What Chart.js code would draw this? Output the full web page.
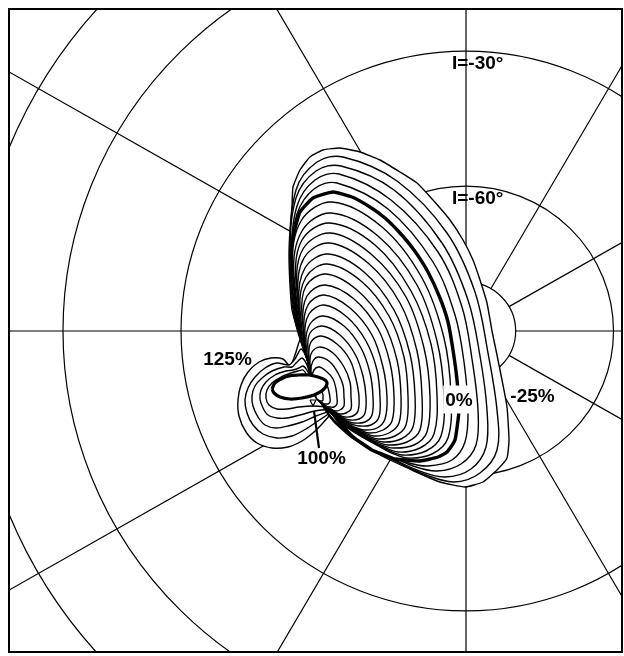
<!DOCTYPE html>
<html>
<head>
<meta charset="utf-8">
<script src="https://cdn.jsdelivr.net/npm/chart.js@4/dist/chart.umd.min.js"></script>
<style>
  html, body { margin: 0; padding: 0; background: #fff; overflow: hidden; }
  canvas { display: block; }
</style>
</head>
<body>
<canvas id="net" width="624" height="656"></canvas>
<script>
// Equal-area net, pole of the upper hemisphere at the origin, x east, y north.
// Net units: the equator (I = 0°) has radius 403 east-west; the printed net is
// slightly squat, its north-south radius is NET_ASPECT of that.
const NET_RADIUS = 403;
const NET_ASPECT = 0.982;
const ringInclinations = [-80, -60, -30, 0, 30];
const meridianDeclinations = [0, 30, 60, 90, 120, 150, 180, 210, 240, 270, 300, 330];
const ringLabelText = ['I=-30°', 'I=-60°'];
const ringLabelInc = [-30, -60];

// Contours of the relative change, closed paths of [x, y] on the net.
const levelsOuter = [-25, -20, -15, -10, -5];
const pathsOuter = [
  [[-174,124],[-173,144],[-166,161],[-156,174],[-143,181],[-126,183],[-106,179],[-86,171],[-66,159],[-49,148],[-33,131],[-16,111],[-3,91],[7,71],[14,51],[21,28],[26,0],[31,-24],[36,-49],[41,-76],[43,-109],[41,-127],[31,-139],[17,-151],[-1,-156],[-26,-151],[-52,-140],[-86,-124],[-114,-107],[-132,-91],[-144,-74],[-150,-57],[-156,-37],[-162,-17],[-168,0],[-174,21],[-176,46],[-177,76],[-176,101],[-174,124]],
  [[-83,-124],[-135,-87],[-154,-42],[-172,15],[-176,75],[-170,141],[-149,169],[-123,174],[-69,150],[-19,98],[9,39],[22,-22],[31,-79],[31,-119],[14,-142],[-12,-151],[-45,-142],[-83,-124]],
  [[-81,-124],[-134,-88],[-154,-42],[-171,14],[-176,74],[-170,133],[-150,160],[-125,165],[-72,141],[-24,88],[2,31],[14,-25],[21,-79],[20,-116],[5,-138],[-21,-146],[-49,-139],[-81,-124]],
  [[-78,-124],[-133,-88],[-154,-43],[-170,13],[-175,73],[-169,125],[-151,151],[-127,157],[-75,131],[-28,79],[-4,24],[6,-28],[12,-79],[10,-114],[-5,-133],[-29,-140],[-53,-135],[-78,-124]],
  [[-76,-124],[-132,-89],[-153,-43],[-169,12],[-175,72],[-169,117],[-152,142],[-129,148],[-78,122],[-33,69],[-11,16],[-2,-31],[2,-79],[-1,-111],[-14,-129],[-38,-135],[-57,-132],[-76,-124]]
];

const pathZero = [[-71,-128],[-94,-119],[-114,-105],[-130,-87],[-142,-68],[-150,-49],[-156,-29],[-164,-4],[-169,21],[-172,49],[-174,76],[-172,98],[-166,119],[-153,133],[-133,139],[-114,134],[-96,124],[-81,113],[-66,98],[-52,81],[-38,59],[-26,33],[-18,9],[-13,-19],[-9,-49],[-7,-79],[-11,-109],[-19,-121],[-28,-126],[-46,-130],[-61,-129],[-71,-128]];

const levelsInner = [5, 10, 15, 20, 25, 30, 35, 40, 45, 50, 55, 60, 65, 70, 75, 80, 85, 90, 95];
const pathsInner = [
  [[-77,-121],[-127,-90],[-152,-50],[-173,62],[-165,110],[-134,129],[-84,104],[-44,53],[-22,-7],[-15,-64],[-18,-107],[-34,-123],[-59,-127],[-77,-121]],
  [[-81,-118],[-128,-89],[-152,-51],[-172,55],[-164,100],[-135,118],[-88,95],[-49,46],[-29,-10],[-22,-64],[-25,-105],[-40,-120],[-64,-124],[-81,-118]],
  [[-85,-115],[-130,-87],[-152,-52],[-170,49],[-164,91],[-136,108],[-91,86],[-55,40],[-35,-13],[-29,-64],[-32,-103],[-46,-117],[-68,-121],[-85,-115]],
  [[-88,-113],[-131,-86],[-152,-53],[-169,42],[-163,82],[-136,98],[-95,77],[-60,34],[-42,-17],[-36,-65],[-39,-101],[-52,-114],[-73,-117],[-88,-113]],
  [[-92,-110],[-132,-85],[-152,-54],[-168,35],[-162,73],[-137,88],[-98,68],[-66,28],[-49,-20],[-44,-65],[-46,-99],[-59,-111],[-78,-114],[-92,-110]],
  [[-96,-107],[-133,-84],[-152,-54],[-167,28],[-161,63],[-138,77],[-102,59],[-72,21],[-56,-23],[-51,-65],[-53,-96],[-65,-108],[-83,-111],[-96,-107]],
  [[-100,-104],[-134,-83],[-152,-55],[-166,21],[-160,54],[-139,67],[-105,50],[-77,15],[-62,-26],[-58,-65],[-60,-94],[-71,-105],[-88,-108],[-100,-104]],
  [[-104,-101],[-136,-81],[-152,-56],[-164,15],[-160,45],[-140,57],[-109,41],[-83,9],[-69,-29],[-65,-65],[-67,-92],[-77,-102],[-92,-105],[-104,-101]],
  [[-108,-98],[-137,-80],[-152,-57],[-163,8],[-159,35],[-141,46],[-112,32],[-88,2],[-76,-32],[-72,-65],[-74,-90],[-83,-99],[-97,-102],[-108,-98]],
  [[-112,-96],[-138,-79],[-152,-58],[-162,1],[-158,26],[-142,36],[-116,23],[-94,-4],[-83,-36],[-79,-66],[-81,-88],[-89,-97],[-102,-99],[-112,-96]],
  [[-115,-93],[-139,-78],[-151,-59],[-161,-6],[-157,17],[-142,26],[-119,14],[-100,-10],[-89,-39],[-86,-66],[-87,-86],[-95,-94],[-107,-95],[-115,-93]],
  [[-119,-90],[-140,-77],[-151,-60],[-160,-13],[-156,7],[-143,15],[-122,5],[-105,-17],[-96,-42],[-93,-66],[-94,-84],[-101,-91],[-112,-92],[-119,-90]],
  [[-123,-87],[-142,-75],[-151,-61],[-158,-19],[-156,-2],[-144,5],[-126,-4],[-111,-23],[-103,-45],[-100,-66],[-101,-82],[-107,-88],[-116,-89],[-123,-87]],
  [[-127,-84],[-143,-74],[-151,-62],[-157,-26],[-155,-11],[-145,-5],[-129,-13],[-116,-29],[-110,-48],[-107,-66],[-108,-80],[-113,-85],[-121,-86],[-127,-84]],
  [[-131,-81],[-144,-73],[-151,-63],[-156,-33],[-154,-21],[-146,-16],[-133,-22],[-122,-36],[-116,-51],[-115,-66],[-115,-78],[-120,-82],[-126,-83],[-131,-81]],
  [[-135,-78],[-145,-72],[-151,-63],[-155,-40],[-153,-30],[-147,-26],[-136,-31],[-128,-42],[-123,-54],[-122,-66],[-122,-75],[-126,-79],[-131,-80],[-135,-78]],
  [[-138,-76],[-146,-71],[-151,-64],[-154,-47],[-152,-39],[-147,-36],[-140,-40],[-133,-48],[-130,-58],[-129,-67],[-129,-73],[-132,-76],[-136,-76],[-138,-76]],
  [[-142,-73],[-148,-69],[-151,-65],[-152,-53],[-152,-48],[-148,-46],[-143,-49],[-139,-54],[-137,-61],[-136,-67],[-136,-71],[-138,-73],[-140,-73],[-142,-73]],
  [[-146,-70],[-149,-68],[-150,-66],[-151,-60],[-151,-58],[-149,-57],[-147,-58],[-144,-61],[-143,-64],[-143,-67],[-143,-69],[-144,-70],[-145,-70],[-146,-70]]
];

const levelsLobe = [125, 120, 115, 110, 105];
const pathsLobe = [
  [[-136,-84],[-144,-93],[-152,-101],[-164,-110],[-178,-116],[-194,-117],[-209,-112],[-220,-101],[-227,-85],[-228,-69],[-225,-54],[-218,-41],[-207,-31],[-195,-27],[-183,-28],[-176,-35],[-171,-24],[-165,-7],[-160,-21],[-153,-49],[-144,-69],[-136,-84]],
  [[-136,-82],[-148,-90],[-160,-98],[-174,-105],[-189,-107],[-203,-103],[-213,-94],[-219,-82],[-221,-69],[-218,-57],[-211,-46],[-201,-37],[-189,-32],[-177,-34],[-171,-28],[-165,-18],[-159,-27],[-155,-46],[-146,-67],[-136,-82]],
  [[-136,-80],[-150,-85],[-164,-91],[-178,-95],[-190,-97],[-201,-94],[-208,-86],[-213,-75],[-214,-65],[-211,-55],[-204,-47],[-194,-40],[-182,-36],[-174,-36],[-169,-31],[-164,-27],[-159,-34],[-155,-48],[-148,-65],[-136,-80]],
  [[-136,-78],[-151,-80],[-166,-84],[-179,-87],[-189,-87],[-198,-84],[-203,-77],[-206,-68],[-205,-59],[-200,-51],[-191,-44],[-180,-40],[-173,-39],[-167,-37],[-163,-35],[-158,-41],[-154,-51],[-146,-66],[-136,-78]],
  [[-136,-76],[-152,-75],[-167,-76],[-179,-78],[-189,-78],[-197,-74],[-200,-67],[-199,-59],[-194,-52],[-185,-46],[-175,-42],[-168,-40],[-163,-39],[-157,-47],[-148,-63],[-136,-76]]
];

const pathRing100 = [[-194,-58],[-191,-52],[-185,-48],[-177,-45],[-167,-44],[-157,-44],[-148,-46],[-141,-49],[-139,-53],[-143,-59],[-152,-64],[-164,-67],[-176,-68],[-186,-66],[-192,-62],[-194,-58]];
const pathPoint100 = [[-156,-69],[-150,-69],[-153,-75],[-156,-69]];

// Level labels
const labelText = ['0%', '-25%', '125%', '100%'];
const labelAt = [[-7,-68.5], [66.5,-65], [-238.5,-27.5], [-144.5,-126.5]];
const labelBoxed = [true, false, false, false];
const leader100 = [[-147,-117], [-152,-80]];

function ringRadius(inc) {
  return NET_RADIUS * Math.SQRT2 * Math.sin((90 + inc) / 2 * Math.PI / 180);
}

const LABEL_FONT = 'bold 19px "Liberation Sans", Arial, sans-serif';

const datasets = [];
let seq = 0;
function addContour(path, width, tension) {
  datasets.push({
    data: path.map(([x, y]) => ({x, y})),
    showLine: true,
    pointRadius: 0,
    pointHoverRadius: 0,
    borderColor: '#000',
    backgroundColor: '#fff',
    borderWidth: width,
    borderJoinStyle: 'round',
    fill: 'shape',
    tension: tension,
    order: -(seq++)
  });
}
pathsLobe.forEach(p => addContour(p, 1.4, 0.25));
pathsOuter.forEach((p, i) => addContour(p, 1.4, i === 0 ? 0.15 : 0.35));
addContour(pathZero, 3.4, 0.15);
pathsInner.forEach(p => addContour(p, 1.4, 0.35));
addContour(pathRing100, 3.2, 0.4);
addContour(pathPoint100, 1.2, 0);

const netGrid = {
  id: 'netGrid',
  beforeDatasetsDraw(chart) {
    const {ctx, chartArea: a, scales: {x, y}} = chart;
    const cx = x.getPixelForValue(0), cy = y.getPixelForValue(0);
    ctx.save();
    ctx.beginPath();
    ctx.rect(a.left, a.top, a.right - a.left, a.bottom - a.top);
    ctx.clip();
    ctx.strokeStyle = '#000';
    ctx.lineWidth = 1.2;
    ringInclinations.forEach(inc => {
      const r = ringRadius(inc);
      const rx = x.getPixelForValue(r) - cx;
      const ry = cy - y.getPixelForValue(r * NET_ASPECT);
      ctx.beginPath();
      ctx.ellipse(cx, cy, rx, ry, 0, 0, Math.PI * 2);
      ctx.stroke();
    });
    const r0 = ringRadius(ringInclinations[0]);
    meridianDeclinations.forEach(dec => {
      const t = dec * Math.PI / 180;
      ctx.beginPath();
      ctx.moveTo(x.getPixelForValue(r0 * Math.sin(t)), y.getPixelForValue(r0 * NET_ASPECT * Math.cos(t)));
      ctx.lineTo(x.getPixelForValue(1000 * Math.sin(t)), y.getPixelForValue(1000 * NET_ASPECT * Math.cos(t)));
      ctx.stroke();
    });
    ctx.restore();
  },
  afterDatasetsDraw(chart) {
    const {ctx, chartArea: a, scales: {x, y}} = chart;
    ctx.save();
    ctx.font = LABEL_FONT;
    ctx.fillStyle = '#000';
    ctx.textBaseline = 'middle';
    // ring labels, just inside the top of each ring
    ctx.textAlign = 'left';
    ringLabelText.forEach((t, i) => {
      const r = ringRadius(ringLabelInc[i]) * NET_ASPECT;
      ctx.fillText(t, x.getPixelForValue(-14), y.getPixelForValue(r - 12) + 1);
    });
    // level labels
    ctx.textAlign = 'center';
    labelText.forEach((t, i) => {
      const px = x.getPixelForValue(labelAt[i][0]);
      const py = y.getPixelForValue(labelAt[i][1]);
      if (labelBoxed[i]) {
        const w = ctx.measureText(t).width;
        ctx.fillStyle = '#fff';
        ctx.fillRect(px - w / 2 - 2, py - 14, w + 4, 28);
        ctx.fillStyle = '#000';
      }
      ctx.fillText(t, px, py + 1);
    });
    // leader from the 100% label
    ctx.lineWidth = 2.2;
    ctx.strokeStyle = '#000';
    ctx.beginPath();
    ctx.moveTo(x.getPixelForValue(leader100[0][0]), y.getPixelForValue(leader100[0][1]));
    ctx.lineTo(x.getPixelForValue(leader100[1][0]), y.getPixelForValue(leader100[1][1]));
    ctx.stroke();
    // frame
    ctx.lineWidth = 2;
    ctx.strokeRect(a.left, a.top, a.right - a.left, a.bottom - a.top);
    ctx.restore();
  }
};

new Chart(document.getElementById('net'), {
  type: 'scatter',
  data: { datasets },
  options: {
    responsive: false,
    animation: false,
    events: [],
    layout: { padding: { left: 9, top: 9, right: 2, bottom: 4 } },
    scales: {
      x: { type: 'linear', min: -457, max: 156, display: false },
      y: { type: 'linear', min: -321, max: 322, display: false }
    },
    plugins: {
      legend: { display: false },
      tooltip: { enabled: false },
      filler: { drawTime: 'beforeDatasetDraw' }
    }
  },
  plugins: [netGrid]
});
</script>
</body>
</html>
